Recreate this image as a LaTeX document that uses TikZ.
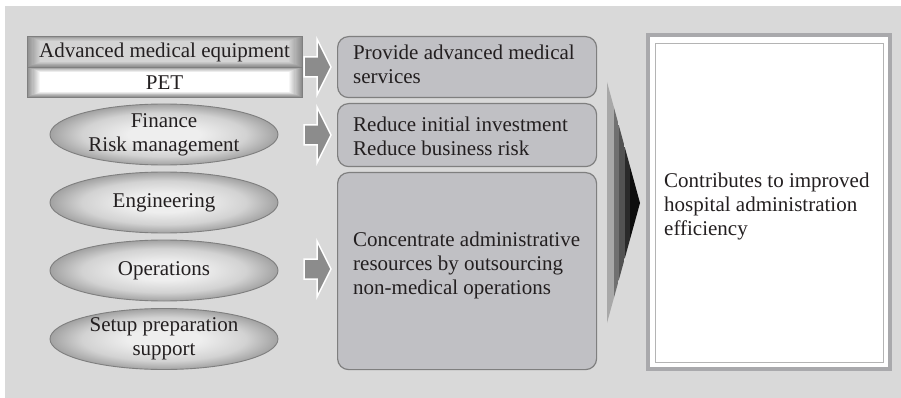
\documentclass[tikz,border=0pt]{standalone}
\usepackage{fontspec}
\setmainfont{Liberation Serif}
\usetikzlibrary{shapes.geometric}
\definecolor{bggray}{HTML}{D9D9D9}
\definecolor{boxfill}{HTML}{C0C0C4}
\definecolor{boxline}{HTML}{7F7F7F}
\definecolor{txt}{HTML}{231F20}
\definecolor{arrfill}{HTML}{8C8C8C}
\definecolor{ellin}{HTML}{EEEEEE}
\definecolor{ellmid}{HTML}{D2D2D2}
\definecolor{ellout}{HTML}{A2A2A2}
\definecolor{framegray}{HTML}{A9A9AC}
\definecolor{innerline}{HTML}{B4B4B4}
\definecolor{bevout}{HTML}{8E8E8E}
\definecolor{bevtop}{HTML}{D4D4D4}
\definecolor{chA}{HTML}{A8A8A8}
\definecolor{chB}{HTML}{707070}
\definecolor{chC}{HTML}{525252}
\definecolor{chD}{HTML}{2A2A2A}
\definecolor{chE}{HTML}{0D0D0D}
\pgfdeclareradialshading{ellshade}{\pgfpoint{0bp}{0bp}}{color(0bp)=(ellin); color(8bp)=(ellin); color(18bp)=(ellmid); color(25bp)=(ellout); color(50bp)=(ellout)}
\tikzset{
  lbl/.style={font=\fontsize{21}{24}\selectfont, text=txt, inner sep=0pt},
  ell/.style={ellipse, draw=boxline, line width=0.9pt, shading=ellshade,
    minimum width=228pt, minimum height=61pt, inner sep=0pt, align=center, lbl},
  rbox/.style={draw=boxline, line width=1.2pt, fill=boxfill, rounded corners=11pt,
    inner sep=0pt, anchor=north west},
  blk/.style={fill=arrfill, draw=white, line width=1.5pt, line join=miter},
}
\begin{document}
\begin{tikzpicture}[x=1pt,y=-1pt]
\useasboundingbox (0,0) rectangle (901,398);
\fill[bggray] (5,6) rectangle (901,398);

% equipment box with bevel rows
\foreach \i in {0,...,12}{
  \pgfmathsetmacro{\t}{\i/12}
  \pgfmathsetmacro{\p}{100*\t}
  \fill[bevtop!\p!bevout] ({27+13*\t},{36+5*\t}) rectangle ({302-13*\t},{67-5*\t});
  \fill[white!\p!bevout] ({27+13*\t},{67+5*\t}) rectangle ({302-13*\t},{97-5*\t});
}
\draw[boxline, line width=0.8pt] (27,36) rectangle (302,97);
\draw[boxline, line width=0.8pt] (27,67) -- (302,67);
\node[lbl, anchor=base] (equip) at (164.5,58) {Advanced medical equipment};
\node[lbl, anchor=base] (pet) at (164.5,89.5) {PET};

% ellipses
\node[ell] (fin) at (164,134.5) {Finance\\Risk management};
\node[ell] (eng) at (164,202.5) {Engineering};
\node[ell] (ops) at (164,270.5) {Operations};
\node[ell] (setup) at (164,339) {Setup preparation\\support};

% block arrows
\foreach \c in {67,135,269}{
  \draw[blk] (304,\c-10) -- (317,\c-10) -- (317,\c-28) -- (331,\c) -- (317,\c+28)
     -- (317,\c+10) -- (304,\c+10) -- cycle;
}

% rounded boxes
\node[rbox, minimum width=259pt, minimum height=61pt] (b1) at (337,36) {};
\node[rbox, minimum width=259pt, minimum height=63pt] (b2) at (337,103) {};
\node[rbox, minimum width=259pt, minimum height=197pt] (b3) at (337,172) {};
\node[lbl, anchor=north west, align=left] (t1) at (353,44.7) {Provide advanced medical\\services};
\node[lbl, anchor=north west, align=left] (t2) at (353,116.7) {Reduce initial investment\\Reduce business risk};
\node[lbl, anchor=north west, align=left] (t3) at (353,231.7) {Concentrate administrative\\resources by outsourcing\\non-medical operations};

% chevron
\begin{scope}
  \clip (607,82) -- (640,203) -- (607,323) -- cycle;
  \fill[chA] (607,80) rectangle (613.5,325);
  \fill[chB] (613.5,80) rectangle (618.5,325);
  \fill[chC] (618.5,80) rectangle (624.5,325);
  \fill[chD] (624.5,80) rectangle (629.5,325);
  \fill[chE] (629.5,80) rectangle (642,325);
\end{scope}

% result box
\fill[framegray] (646,33) rectangle (892,371);
\fill[white] (650,37) rectangle (888,367);
\draw[innerline, line width=0.9pt] (655,43) rectangle (883,362);
\node[lbl, anchor=north west, align=left] (res) at (664,172.7) {Contributes to improved\\hospital administration\\efficiency};
\end{tikzpicture}
\end{document}
